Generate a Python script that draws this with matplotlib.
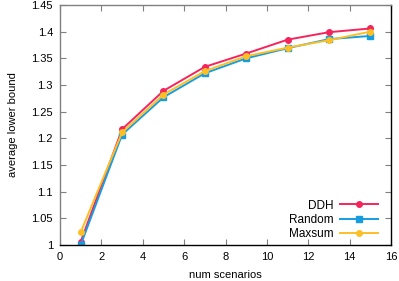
import matplotlib.pyplot as plt
from matplotlib.ticker import FuncFormatter

plt.rcParams['font.family'] = ['Liberation Sans', 'DejaVu Sans']

# values
scenarios = [1, 3, 5, 7, 9, 11, 13, 15]
ddh = [1.006, 1.217, 1.289, 1.334, 1.359, 1.385, 1.399, 1.406]
random_ = [1.000, 1.207, 1.277, 1.322, 1.350, 1.369, 1.386, 1.392]
maxsum = [1.024, 1.211, 1.282, 1.326, 1.354, 1.370, 1.384, 1.400]

fig = plt.figure(figsize=(3.99, 2.81), dpi=100)
ax = fig.add_axes([60 / 399, 1 - 245 / 281, 331 / 399, 240 / 281])

ax.plot(scenarios, ddh, color='#f5245c', marker='o', markersize=4, lw=1.4, label='DDH')
ax.plot(scenarios, random_, color='#169de0', marker='s', markersize=4, lw=1.4, label='Random')
ax.plot(scenarios, maxsum, color='#fcbf26', marker='o', markersize=4, lw=1.4, label='Maxsum')

ax.set_xlim(0, 16)
ax.set_ylim(1, 1.45)
ax.set_xticks(range(0, 17, 2))
ax.set_yticks([1 + 0.05 * i for i in range(10)])
ax.yaxis.set_major_formatter(FuncFormatter(lambda v, p: '%g' % round(v, 2)))
ax.tick_params(direction='in', top=True, right=True, length=4, width=0.8,
               labelsize=8, color='#808080', pad=5)

for side in ['left', 'top']:
    ax.spines[side].set_color('#808080')
for side in ['bottom', 'right']:
    ax.spines[side].set_color('black')
for s in ax.spines.values():
    s.set_linewidth(1.0)

ax.set_xlabel('num scenarios', fontsize=8, labelpad=6)
ax.set_ylabel('average lower bound', fontsize=8, labelpad=10)

ax.legend(loc='lower right', frameon=False, markerfirst=False, fontsize=8.5,
          handlelength=3.2, labelspacing=0.2, handletextpad=0.6,
          borderaxespad=0.0, bbox_to_anchor=(0.975, 0.0))

fig.savefig('out.png', dpi=100)
